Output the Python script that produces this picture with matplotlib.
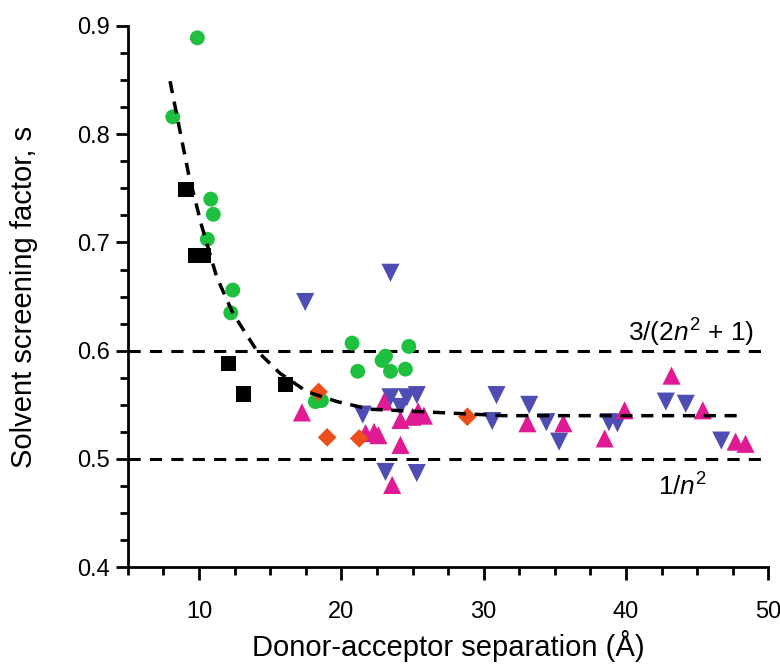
import numpy as np
import matplotlib.pyplot as plt
from matplotlib.ticker import MultipleLocator

plt.rcParams['font.family'] = ['Liberation Sans', 'DejaVu Sans']
plt.rcParams['mathtext.fontset'] = 'custom'
plt.rcParams['mathtext.rm'] = 'Liberation Sans'
plt.rcParams['mathtext.it'] = 'Liberation Sans:italic'

# black squares
sq_x = [9.08, 9.75, 10.3, 12.06, 13.12, 16.08]
sq_y = [0.749, 0.688, 0.688, 0.588, 0.560, 0.569]

# green circles
circ_x = [9.88, 8.15, 10.82, 11.0, 10.58, 12.37, 12.23, 20.75, 24.74, 23.1,
          22.86, 21.15, 23.45, 24.5, 18.17, 18.6]
circ_y = [0.889, 0.816, 0.740, 0.726, 0.703, 0.656, 0.635, 0.607, 0.604, 0.595,
          0.591, 0.581, 0.581, 0.583, 0.553, 0.554]

# orange diamonds
dia_x = [18.4, 19.0, 21.25, 28.85]
dia_y = [0.562, 0.520, 0.519, 0.539]

# magenta up-triangles
up_x = [17.23, 23.0, 25.4, 24.15, 25.0, 25.8, 21.7, 22.3, 22.6, 24.15, 23.57,
        33.07, 35.6, 38.5, 39.9, 43.2, 45.4, 47.7, 48.4]
up_y = [0.543, 0.553, 0.544, 0.536, 0.539, 0.540, 0.524, 0.525, 0.522, 0.513, 0.476,
        0.533, 0.533, 0.519, 0.545, 0.577, 0.545, 0.516, 0.514]

# blue down-triangles
dn_x = [17.46, 23.45, 21.5, 23.45, 24.6, 25.3, 24.15, 23.1, 25.3, 30.9, 30.6,
        33.2, 34.4, 35.3, 38.8, 39.4, 42.8, 44.2, 46.7]
dn_y = [0.645, 0.672, 0.541, 0.557, 0.557, 0.559, 0.548, 0.488, 0.487, 0.559, 0.535,
        0.550, 0.534, 0.516, 0.534, 0.533, 0.553, 0.551, 0.517]

# dashed guide curve
fit_x = [7.96, 8.55, 9.25, 10.19, 11.24, 12.4, 14.06, 15.7, 17.6, 19.7, 22.0,
         26.7, 31.4, 40.0, 47.9]
fit_y = [0.849, 0.810, 0.764, 0.715, 0.668, 0.634, 0.600, 0.579, 0.562, 0.553,
         0.546, 0.543, 0.540, 0.540, 0.540]

fig = plt.figure(figsize=(7.8, 6.65), dpi=100)
ax = fig.add_axes([0.164, 0.147, 0.821, 0.814])

ax.axhline(0.6, color='black', ls=(0, (4, 3)), lw=2.2, zorder=1)
ax.axhline(0.5, color='black', ls=(0, (4, 3)), lw=2.2, zorder=1)

ax.scatter(dn_x, dn_y, marker='v', s=170, color='#4d4db3', edgecolors='none', zorder=2)
ax.scatter(up_x, up_y, marker='^', s=170, color='#e01a92', edgecolors='none', zorder=3)
ax.scatter(circ_x, circ_y, marker='o', s=115, color='#1fc040', edgecolors='none', zorder=4)
ax.scatter(dia_x, dia_y, marker='D', s=90, color='#ec4f1c', edgecolors='none', zorder=4)
ax.scatter(sq_x, sq_y, marker='s', s=120, color='black', edgecolors='none', zorder=4)

ax.plot(fit_x, fit_y, color='black', ls=(0, (3.5, 2.5)), lw=2.5, zorder=5)

ax.text(49.0, 0.608, r'3/(2$n^2$ + 1)', ha='right', va='baseline', fontsize=19)
ax.text(44.0, 0.4665, r'1/$n^2$', ha='center', va='baseline', fontsize=19)

ax.set_xlim(5, 50)
ax.set_ylim(0.4, 0.9)
ax.xaxis.set_major_locator(MultipleLocator(10))
ax.xaxis.set_minor_locator(MultipleLocator(2.5))
ax.yaxis.set_major_locator(MultipleLocator(0.1))
ax.yaxis.set_minor_locator(MultipleLocator(0.025))
ax.set_xticks([10, 20, 30, 40, 50])
ax.set_xticklabels(['10', '20', '30', '40', '50'])

for s in ['top', 'right']:
    ax.spines[s].set_visible(False)
for s in ['left', 'bottom']:
    ax.spines[s].set_linewidth(2)

ax.tick_params(which='major', direction='out', length=9, width=2, labelsize=17, pad=4)
ax.tick_params(which='minor', direction='out', length=6, width=2)
ax.tick_params(axis='x', which='major', pad=15)

ax.set_xlabel('Donor-acceptor separation (Å)', fontsize=21, labelpad=5)
ax.set_ylabel('Solvent screening factor, s', fontsize=21, labelpad=28)
ax.patch.set_visible(False)

fig.savefig('out.png', dpi=100)
